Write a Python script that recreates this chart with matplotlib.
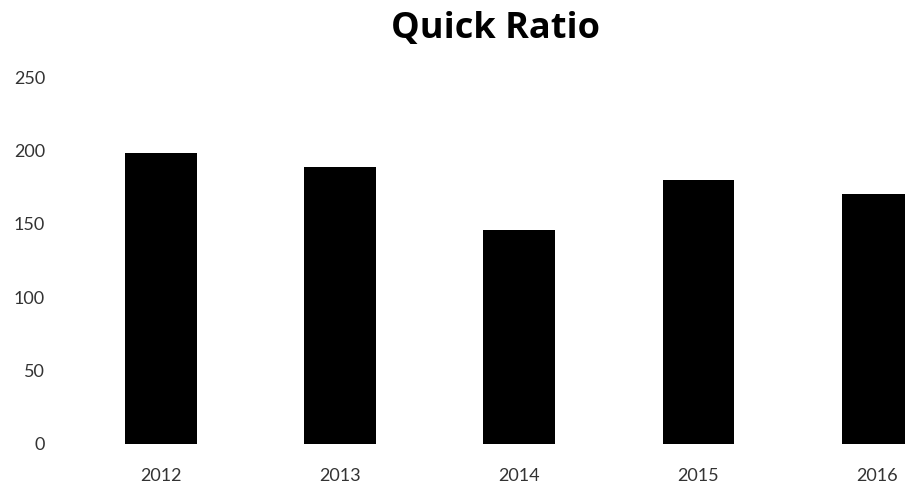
import matplotlib.pyplot as plt

years = ['2012', '2013', '2014', '2015', '2016']
quick_ratio = [198, 189, 146, 180, 170]
y_ticks = [0, 50, 100, 150, 200, 250]

plt.rcParams['font.family'] = ['Lato', 'DejaVu Sans']

fig = plt.figure(figsize=(9.05, 4.87), dpi=100)
# plot area runs past the right edge, like the cropped original
ax = fig.add_axes([71.5 / 905, 43 / 487, 895.5 / 905, 367 / 487])
ax.bar(range(len(years)), quick_ratio, width=0.4, color='black')
ax.set_xlim(-0.5, len(years) - 0.5)
ax.set_ylim(0, 250)
ax.set_yticks(y_ticks)
ax.set_xticks(range(len(years)))
ax.set_xticklabels(years)
for s in ax.spines.values():
    s.set_visible(False)
ax.tick_params(axis='both', length=0, labelsize=13, colors='#333333')
ax.tick_params(axis='y', pad=19)
ax.tick_params(axis='x', pad=17)
fig.text(495 / 905, 1 - 29 / 487, 'Quick Ratio', ha='center', va='center',
         fontsize=26, fontweight='bold', color='black',
         family=['Open Sans', 'DejaVu Sans'])
fig.savefig('out.png', dpi=100)
